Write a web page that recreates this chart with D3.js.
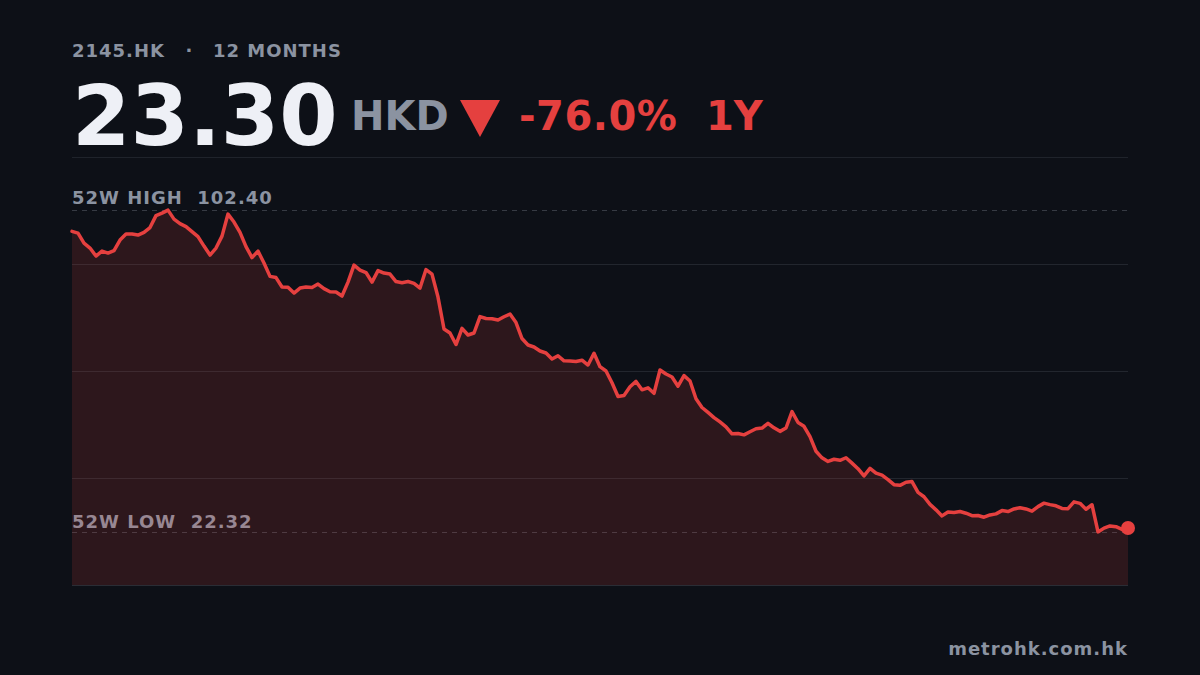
<!DOCTYPE html>
<html>
<head>
<meta charset="utf-8">
<script src="https://cdn.jsdelivr.net/npm/d3@7"></script>
<style>
  html, body { margin: 0; padding: 0; background: #0d1017; }
  svg { display: block; font-family: "DejaVu Sans", sans-serif; font-weight: bold; }
</style>
</head>
<body>
<div id="myChart"></div>
<script>
// header texts
let ticker = "2145.HK";
let period = "12 MONTHS";
let lastPrice = "23.30";
let currency = "HKD";
let changeLabel = "-76.0%";
let rangeLabel = "1Y";
let site = "metrohk.com.hk";

// daily closes over the year
let prices = [
    97.10, 96.68, 94.19, 92.95, 90.96, 92.20, 91.71, 92.33, 94.94, 96.43,
    96.43, 96.18, 96.85, 98.05, 101.03, 101.65, 102.40, 100.16, 99.04, 98.30,
    97.05, 95.81, 93.45, 91.21, 92.95, 95.93, 101.41, 99.42, 96.85, 93.32,
    90.59, 92.20, 89.22, 85.91, 85.61, 83.25, 83.18, 81.76, 83.00, 83.25,
    83.13, 84.00, 82.85, 82.08, 82.01, 81.01, 84.49, 88.72, 87.48, 86.86,
    84.49, 87.35, 86.73, 86.48, 84.62, 84.34, 84.62, 84.17, 83.00, 87.60,
    86.48, 80.76, 72.80, 71.81, 68.95, 72.98, 71.31, 71.81, 75.91, 75.42,
    75.37, 75.04, 75.86, 76.54, 74.42, 70.44, 68.83, 68.33, 67.33, 66.84,
    65.34, 66.16, 64.90, 64.85, 64.72, 65.05, 63.85, 66.76, 63.43, 62.36,
    59.45, 56.02, 56.27, 58.43, 59.77, 57.68, 58.18, 56.81, 62.61, 61.61,
    60.87, 58.58, 61.22, 59.87, 55.45, 53.28, 52.04, 50.77, 49.68, 48.48,
    46.74, 46.82, 46.47, 47.24, 47.98, 48.16, 49.35, 48.21, 47.34, 48.18,
    52.26, 49.55, 48.61, 46.02, 42.39, 40.75, 39.85, 40.40, 40.13, 40.77,
    39.43, 38.04, 36.25, 38.14, 36.94, 36.44, 35.33, 34.08, 33.91, 34.68,
    34.85, 32.14, 31.07, 29.16, 27.81, 26.30, 27.29, 27.17, 27.39, 26.97,
    26.37, 26.40, 25.97, 26.55, 26.80, 27.62, 27.39, 28.04, 28.34, 28.04,
    27.47, 28.61, 29.48, 29.11, 28.81, 28.16, 28.11, 29.80, 29.43, 27.96,
    29.08, 22.32, 23.26, 23.81, 23.61, 22.94, 23.30
];

let width = 1200,
    height = 675,
    left = 72,
    right = 1128,
    plotTop = 157,
    plotBottom = 585;

let red = "#e5403f",
    grey = "#8b93a1";

let svg = d3.select("#myChart").append("svg")
    .attr("width", width)
    .attr("height", height);

svg.append("rect")
    .attr("width", width)
    .attr("height", height)
    .attr("fill", "#0d1017");

// header
svg.append("text")
    .attr("x", left)
    .attr("y", 57)
    .attr("font-size", 18)
    .attr("letter-spacing", 1)
    .attr("fill", grey)
    .text(ticker);
svg.append("text")
    .attr("x", 189)
    .attr("y", 57)
    .attr("font-size", 18)
    .attr("text-anchor", "middle")
    .attr("fill", grey)
    .text("·");
svg.append("text")
    .attr("x", 213)
    .attr("y", 57)
    .attr("font-size", 18)
    .attr("letter-spacing", 1)
    .attr("fill", grey)
    .text(period);

svg.append("text")
    .attr("x", left)
    .attr("y", 145)
    .attr("font-size", 84)
    .attr("fill", "#eef0f6")
    .text(lastPrice);
svg.append("text")
    .attr("x", 351)
    .attr("y", 130)
    .attr("font-size", 40)
    .attr("fill", grey)
    .text(currency);
svg.append("path")
    .attr("d", "M460,100L500,100L480,137Z")
    .attr("fill", red);
svg.append("text")
    .attr("x", 519)
    .attr("y", 130)
    .attr("font-size", 40)
    .attr("letter-spacing", 0.5)
    .attr("fill", red)
    .text(changeLabel);
svg.append("text")
    .attr("x", 706)
    .attr("y", 130)
    .attr("font-size", 40)
    .attr("fill", red)
    .text(rangeLabel);

// scales
let hi = d3.max(prices),
    lo = d3.min(prices),
    pad = (hi - lo) * 0.165;

let x = d3.scaleLinear()
    .domain([0, prices.length - 1])
    .range([left, right]);
let y = d3.scaleLinear()
    .domain([lo - pad, hi + pad])
    .range([plotBottom, plotTop]);

// separator + grid
svg.append("line")
    .attr("x1", left).attr("x2", right)
    .attr("y1", plotTop + 0.5).attr("y2", plotTop + 0.5)
    .attr("stroke", "#1f232b");
svg.selectAll(".grid")
    .data([1, 2, 3])
    .enter()
    .append("line")
    .attr("class", "grid")
    .attr("x1", left).attr("x2", right)
    .attr("y1", function(d) { return Math.round(plotTop + d * (plotBottom - plotTop) / 4) + 0.5; })
    .attr("y2", function(d) { return Math.round(plotTop + d * (plotBottom - plotTop) / 4) + 0.5; })
    .attr("stroke", "#22262e");

// 52w high / low markers
let fmt = d3.format(".2f");
[hi, lo].forEach(function(v) {
    svg.append("line")
        .attr("x1", left).attr("x2", right)
        .attr("y1", Math.round(y(v)) + 0.5).attr("y2", Math.round(y(v)) + 0.5)
        .attr("stroke", "#363a43")
        .attr("stroke-dasharray", "5,5");
});
svg.append("text")
    .attr("x", left)
    .attr("y", y(hi) - 6)
    .attr("font-size", 18)
    .attr("letter-spacing", 1)
    .attr("fill", grey)
    .text("52W HIGH  " + fmt(hi))
    .style("white-space", "pre");
svg.append("text")
    .attr("x", left)
    .attr("y", y(lo) - 4)
    .attr("font-size", 18)
    .attr("letter-spacing", 1)
    .attr("fill", grey)
    .text("52W LOW  " + fmt(lo))
    .style("white-space", "pre");

// area + line
let area = d3.area()
    .x(function(d, i) { return x(i); })
    .y0(plotBottom)
    .y1(function(d) { return y(d); });
let line = d3.line()
    .x(function(d, i) { return x(i); })
    .y(function(d) { return y(d); });

svg.append("path")
    .datum(prices)
    .attr("d", area)
    .attr("fill", red)
    .attr("fill-opacity", 0.15);

svg.append("line")
    .attr("x1", left).attr("x2", right)
    .attr("y1", plotBottom + 0.5).attr("y2", plotBottom + 0.5)
    .attr("stroke", "#2a2d35");

svg.append("path")
    .datum(prices)
    .attr("d", line)
    .attr("fill", "none")
    .attr("stroke", red)
    .attr("stroke-width", 3.5)
    .attr("stroke-linejoin", "round")
    .attr("stroke-linecap", "round");

svg.append("circle")
    .attr("cx", x(prices.length - 1))
    .attr("cy", y(prices[prices.length - 1]))
    .attr("r", 7)
    .attr("fill", red);

// footer
svg.append("text")
    .attr("x", right)
    .attr("y", 655)
    .attr("font-size", 18)
    .attr("letter-spacing", 1)
    .attr("text-anchor", "end")
    .attr("fill", grey)
    .text(site);
</script>
</body>
</html>
